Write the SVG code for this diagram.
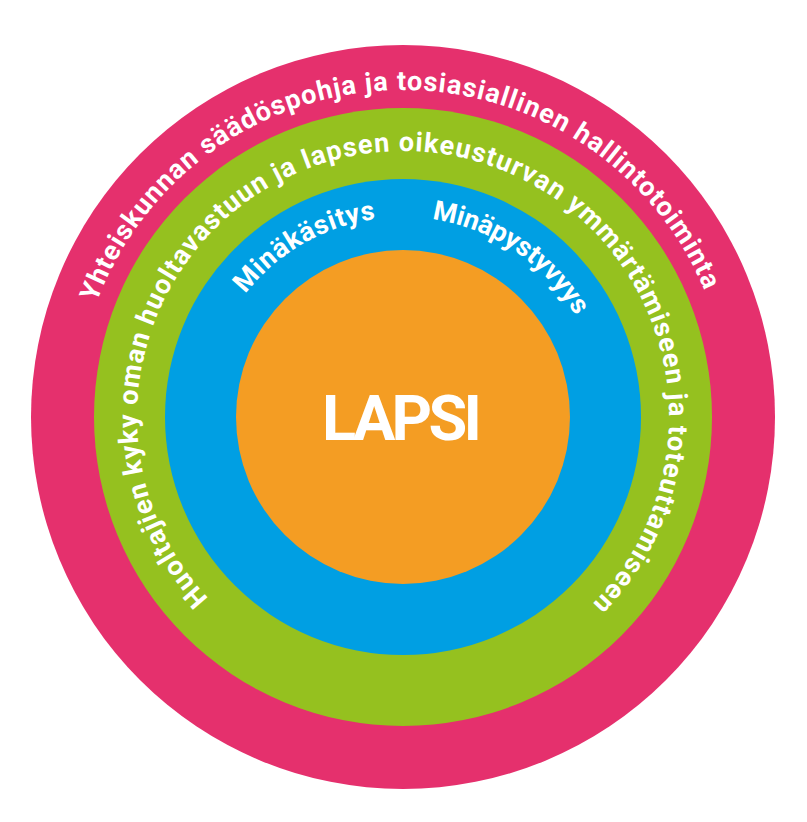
<svg xmlns="http://www.w3.org/2000/svg" width="807" height="822" viewBox="0 0 807 822">
<style>
.t{font-family:Roboto,"Liberation Sans",sans-serif;font-weight:700;fill:#ffffff;}
.ring{font-size:27px;}
.big{font-size:63px;}
</style>
<defs>
<path id="pOuter" d="M96.7,302.5 A327,327 0 0 1 705.1,291.9"/>
<path id="pGreen" d="M208.5,598.4 A266,266 0 1 1 591.1,605.1"/>
<path id="pBlue1" d="M245.4,293.9 A200,200 0 0 1 376.9,218.7"/>
<path id="pBlue2" d="M431.9,219.1 A200,200 0 0 1 576.2,317"/>
</defs>
<rect width="807" height="822" fill="#ffffff"/>
<g id="ring-society">
<circle cx="403" cy="417" r="372" fill="#E5306D"/>
<text class="t ring"><textPath href="#pOuter" textLength="780">Yhteiskunnan säädöspohja ja tosiasiallinen hallintotoiminta</textPath></text>
</g>
<g id="ring-caregivers">
<circle cx="403" cy="417" r="309" fill="#95C11F"/>
<text class="t ring"><textPath href="#pGreen" textLength="1242">Huoltajien kyky oman huoltavastuun ja lapsen oikeusturvan ymmärtämiseen ja toteuttamiseen</textPath></text>
</g>
<g id="ring-self">
<circle cx="403" cy="417" r="238" fill="#009FE3"/>
<text class="t ring"><textPath href="#pBlue1" textLength="154">Minäkäsitys</textPath></text>
<text class="t ring"><textPath href="#pBlue2" textLength="179">Minäpystyvyys</textPath></text>
</g>
<g id="child">
<circle cx="403" cy="417" r="167" fill="#F49D23"/>
<text class="t big" x="402" y="440" text-anchor="middle" textLength="160">LAPSI</text>
</g>
<g id="connectors"/>
</svg>
